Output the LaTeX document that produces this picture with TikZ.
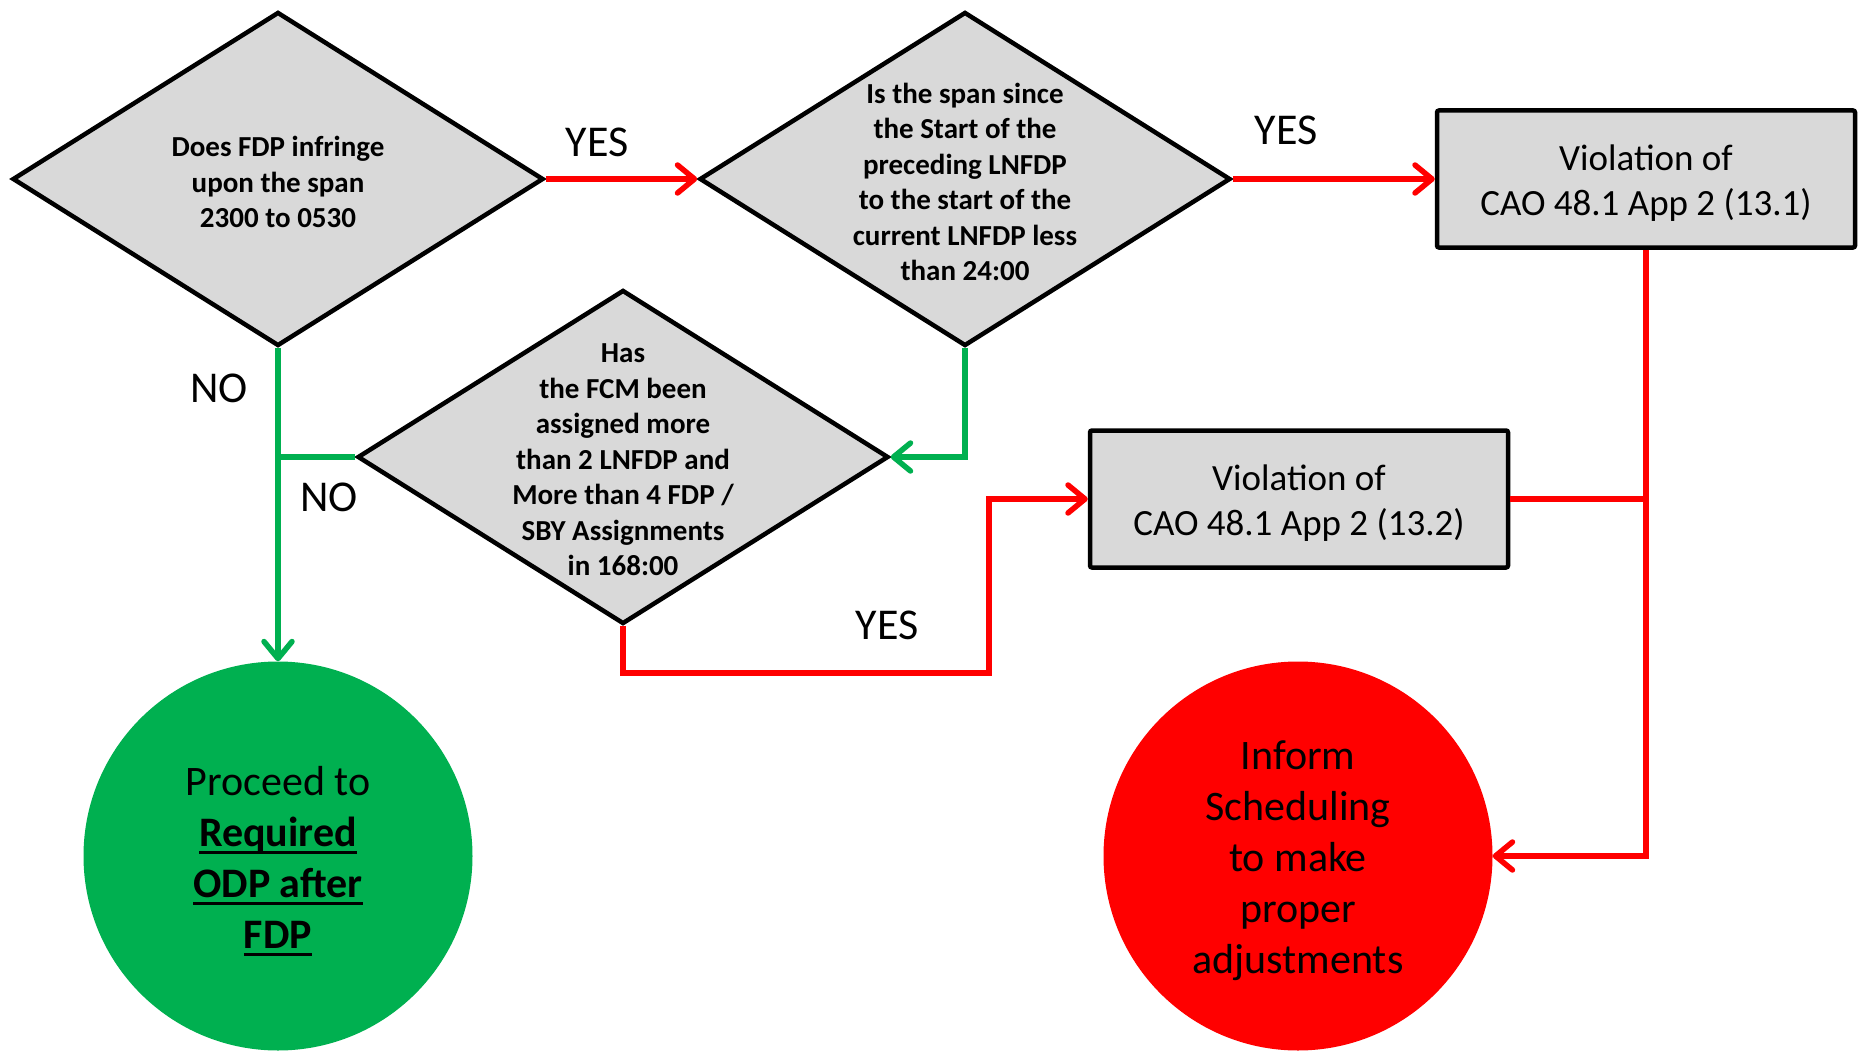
\documentclass[tikz,border=0pt]{standalone}
\usepackage{fontspec}
\setmainfont{Carlito}
\usetikzlibrary{shapes.geometric,arrows.meta}
\definecolor{boxgray}{HTML}{D9D9D9}
\definecolor{ored}{HTML}{FF0000}
\definecolor{ogreen}{HTML}{00B050}
\newcommand\myul[1]{\setbox0\hbox{#1}\rlap{\rule[-8pt]{\wd0}{2.7pt}}\box0}
\begin{document}
\begin{tikzpicture}[x=1pt,y=-1pt,
 dec/.style={diamond, draw=black, fill=boxgray, line width=4.5pt, inner sep=0pt, minimum width=531pt, minimum height=334pt},
 dtext/.style={align=center, font=\fontsize{29}{35.5}\selectfont\bfseries, inner sep=0pt, yshift=-3pt},
 viol/.style={rectangle, draw=black, fill=boxgray, line width=4.5pt, rounded corners=2pt, minimum width=418pt, minimum height=137pt, align=center, inner sep=0pt},
 vtext/.style={align=center, font=\fontsize{37}{45}\selectfont, inner sep=0pt, yshift=-4pt},
 term/.style={circle, minimum size=389pt, inner sep=0pt},
 ttext/.style={align=center, font=\fontsize{42}{51}\selectfont, inner sep=0pt, yshift=-5pt},
 lbl/.style={font=\fontsize{44}{50}\selectfont, inner sep=0pt},
 conn/.style={line width=5.5pt},
 tip/.style={-{Straight Barb[length=17pt,width=28pt,line width=5.5pt,round]}},
]
\useasboundingbox (0,0) rectangle (1860,1051);
% decisions
\node[dec] (d1) at (278,179) {};
\node[dec] (d2) at (965,179) {};
\node[dec] (d3) at (623,457) {};
\node[dtext] (d1t) at (d1.center) {Does FDP infringe\\upon the span\\2300 to 0530};
\node[dtext] (d2t) at (d2.center) {Is the span since\\the Start of the\\preceding LNFDP\\to the start of the\\current LNFDP less\\than 24:00};
\node[dtext] (d3t) at (d3.center) {Has\\the FCM been\\assigned more\\than 2 LNFDP and\\More than 4 FDP /\\SBY Assignments\\in 168:00};
% violation boxes
\node[viol] (v1) at (1646,179) {};
\node[viol] (v2) at (1299,499) {};
\node[vtext] (v1t) at (v1.center) {Violation of\\CAO 48.1 App 2 (13.1)};
\node[vtext] (v2t) at (v2.center) {Violation of\\CAO 48.1 App 2 (13.2)};
% terminals
\node[term, fill=ogreen] (gr) at (278,856) {};
\node[term, fill=ored] (rd) at (1298,856) {};
\node[ttext] (grt) at (gr.center) {Proceed to\\\textbf{\myul{Required}}\\\textbf{\myul{ODP after}}\\\textbf{\myul{FDP}}};
\node[ttext] (rdt) at (rd.center) {Inform\\Scheduling\\to make\\proper\\adjustments};
% connectors
\coordinate (yb) at (989,673);
\draw[conn, ored, tip] (d1.east) -- (d2.west);
\draw[conn, ored, tip] (d2.east) -- (v1.west);
\draw[conn, ored, tip] (v1.south) |- (rd.east);
\draw[conn, ored] (v2.east) -- (v2.east -| v1.south);
\draw[conn, ored, tip] (d3.south) |- (yb) |- (v2.west);
\draw[conn, ogreen, tip] (d2.south) |- (d3.east);
\draw[conn, ogreen, tip] (d1.south) -- (gr.north);
\draw[conn, ogreen] (d3.west) -- (d3.west -| d1.south);
% labels
\node[lbl] (yes1) at (597,142) {YES};
\node[lbl] (yes2) at (1286,130) {YES};
\node[lbl] (yes3) at (887,625) {YES};
\node[lbl] (no1) at (219,388) {NO};
\node[lbl] (no2) at (329,497) {NO};
\end{tikzpicture}
\end{document}
